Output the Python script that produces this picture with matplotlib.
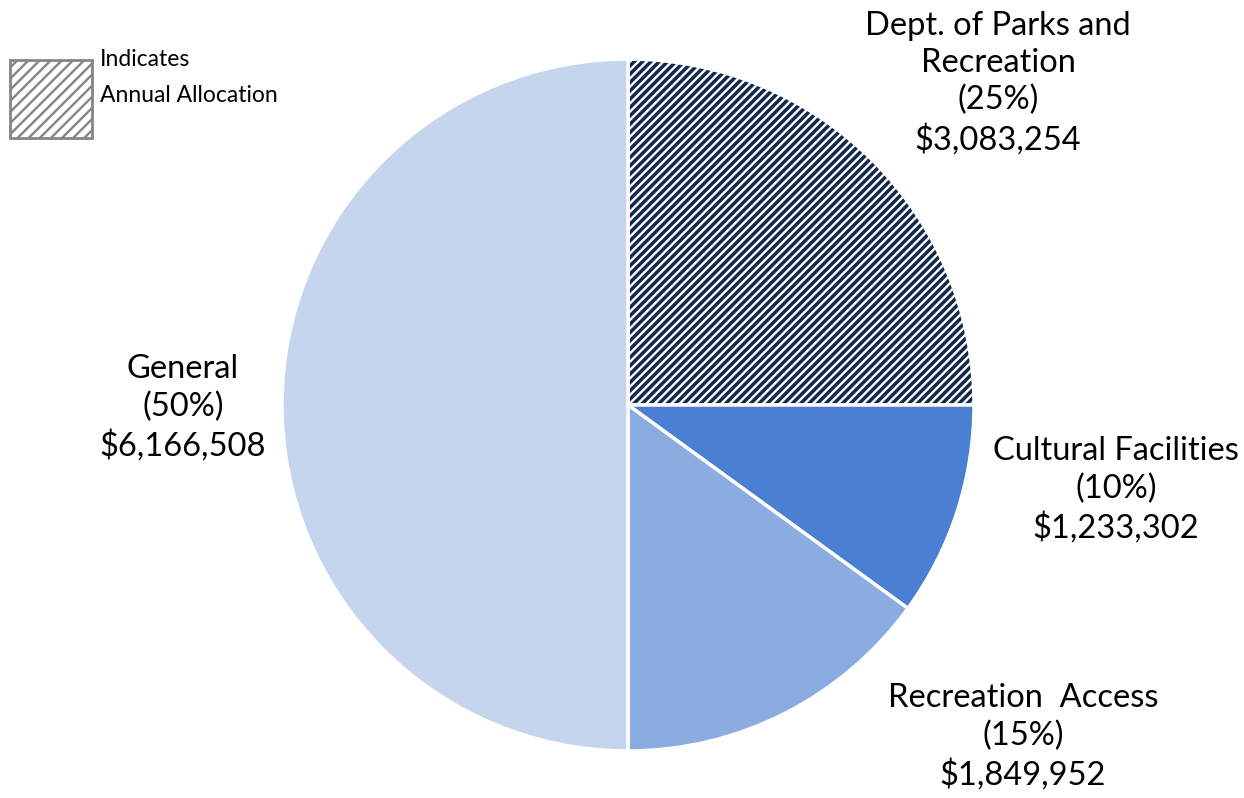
import matplotlib
matplotlib.use("Agg")
import matplotlib.pyplot as plt
from matplotlib.patches import Rectangle

categories = ["Dept. of Parks and\nRecreation", "Cultural Facilities", "Recreation  Access", "General"]
values = [3083254, 1233302, 1849952, 6166508]
colors = ["#13294B", "#4A7FD4", "#8AACE0", "#C5D5EE"]
hatches = ["////", None, None, None]

plt.rcParams['font.family'] = ['Lato', 'DejaVu Sans']
plt.rcParams['hatch.color'] = '#858585'
plt.rcParams['hatch.linewidth'] = 1.7

W, H = 1244, 798
fig = plt.figure(figsize=(W / 100, H / 100), dpi=100)
cx, cy, r = 628, 405, 346
ax = fig.add_axes([(cx - r) / W, (H - cy - r) / H, 2 * r / W, 2 * r / H])
wedges, _ = ax.pie(values, colors=colors, startangle=90, counterclock=False,
                   wedgeprops=dict(edgecolor='white', linewidth=2.5))
for w, h in zip(wedges, hatches):
    if h:
        w.set_hatch(h)
ax.set_xlim(-1, 1)
ax.set_ylim(-1, 1)
ax.set_aspect('equal')
ax.axis('off')

total = sum(values)
label_pos = [(998, 83), (1116, 490), (1023, 737), (183, 408)]
for cat, v, (px, py) in zip(categories, values, label_pos):
    txt = f"{cat}\n({v / total * 100:.0f}%)\n${v:,}"
    fig.text(px / W, 1 - py / H, txt, ha='center', va='center', fontsize=23.5,
             color='black', linespacing=1.3)

# legend box
lg = Rectangle((10 / W, 1 - 138 / H), 82 / W, 78 / H, transform=fig.transFigure,
               facecolor='white', edgecolor='#858585', linewidth=2, hatch='///')
fig.patches.append(lg)
fig.text(100 / W, 1 - 60 / H, "Indicates", fontsize=16.5, va='center', ha='left')
fig.text(100 / W, 1 - 95 / H, "Annual Allocation", fontsize=16.5, va='center', ha='left')

fig.savefig("out.png", dpi=100)
